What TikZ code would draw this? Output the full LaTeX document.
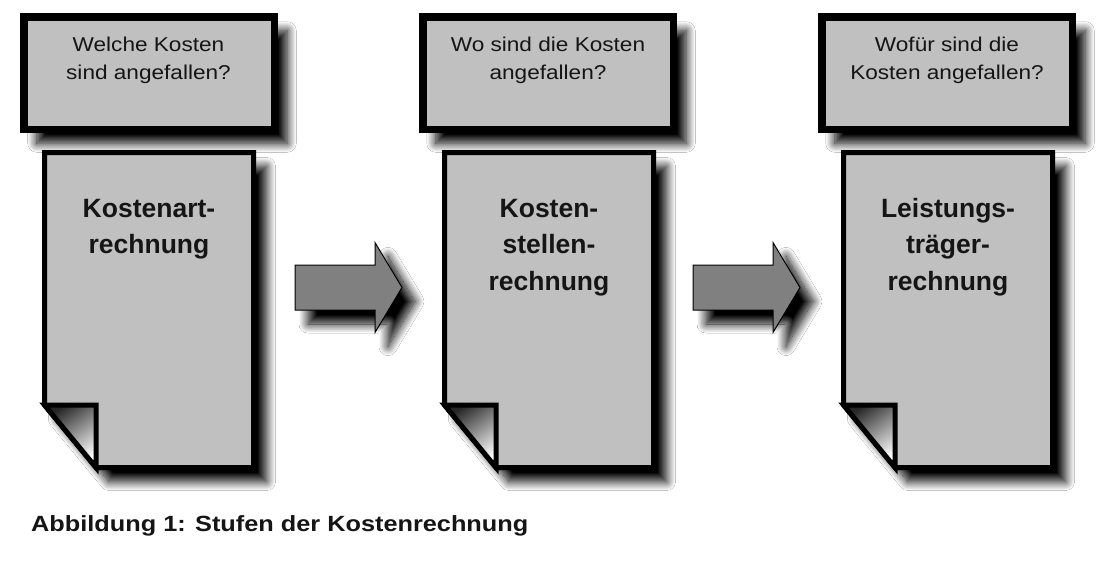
\documentclass[tikz,border=0pt]{standalone}
\usepackage{fontspec}
\setmainfont{Liberation Sans}
\newfontfamily\qfont[FakeStretch=1.13]{Liberation Sans}
\newfontfamily\capfont[FakeStretch=1.15]{Liberation Sans}
\usetikzlibrary{shadows.blur}
\definecolor{boxgray}{HTML}{C0C0C0}
\definecolor{arrowgray}{HTML}{808080}
\definecolor{txtcol}{HTML}{151515}
\tikzset{
  shad/.style={blur shadow={shadow xshift=13pt, shadow yshift=-14pt, shadow blur radius=9pt, shadow blur steps=16, shadow opacity=100}},
  qbox/.style={shad, draw=black, line width=7.5pt, fill=boxgray, minimum width=250.5pt, minimum height=112.5pt, inner sep=0pt},
  qtext/.style={font=\qfont\fontsize{20}{27.6}\selectfont, align=center, anchor=base, inner sep=0pt, text=txtcol},
  docstyle/.style={shad, draw=black, line width=5pt, fill=boxgray, line join=miter},
  flapshade/.style={top color=black!85, bottom color=white, shading angle=35},
  flapline/.style={draw=black, line width=5pt, line join=miter},
  doctext/.style={font=\bfseries\fontsize{26.5}{36.5}\selectfont, align=center, anchor=base, inner sep=0pt, text=txtcol},
  arrowstyle/.style={shad, draw=black, line width=1pt, fill=arrowgray, line join=miter},
  captext/.style={font=\capfont\bfseries\fontsize{22}{26}\selectfont, anchor=base west, inner sep=0pt, text=txtcol}
}
\newcommand\DocShape[1]{%
  \begin{scope}[xshift=#1]
    \path[docstyle] (44.5,152.5) -- (253.5,152.5) -- (253.5,467.5) -- (96,467.5) -- (44.5,405) -- cycle;
    \shade[flapshade] (44.5,405) -- (96,405) -- (96,467.5) -- cycle;
    \path[flapline] (44.5,405) -- (96,405) -- (96,467.5) -- cycle;
  \end{scope}}
\newcommand\BlockArrow[1]{%
  \begin{scope}[xshift=#1]
    \path[arrowstyle] (295,265) -- (375,265) -- (375,242.5) -- (402,287.5) -- (375,332.5) -- (375,310) -- (295,310) -- cycle;
  \end{scope}}
\begin{document}
\begin{tikzpicture}[x=1pt,y=-1pt]
  \path[fill=white] (0,0) rectangle (1100,562);
  \useasboundingbox (0,0) rectangle (1100,562);

  % question boxes
  \node[qbox] (q1) at (149,73) {};
  \node[qbox] (q2) at (548,73) {};
  \node[qbox] (q3) at (947,73) {};
  % anchor=base sits on the last line's baseline
  \node[qtext] (q1t) at (148.5,79.3) {Welche Kosten\\sind angefallen?};
  \node[qtext] (q2t) at (548,79.3) {Wo sind die Kosten\\angefallen?};
  \node[qtext] (q3t) at (947,79.3) {Wofür sind die\\Kosten angefallen?};

  % documents
  \DocShape{0}
  \DocShape{400}
  \DocShape{799}
  \node[doctext] (d1) at (149,253.5) {Kostenart-\\rechnung};
  \node[doctext] (d2) at (549,290) {Kosten-\\stellen-\\rechnung};
  \node[doctext] (d3) at (948,290) {Leistungs-\\träger-\\rechnung};

  % block arrows
  \BlockArrow{0}
  \BlockArrow{398}

  % caption
  \node[captext] (cap) at (31,531) {Abbildung 1: Stufen der Kostenrechnung};
\end{tikzpicture}
\end{document}
